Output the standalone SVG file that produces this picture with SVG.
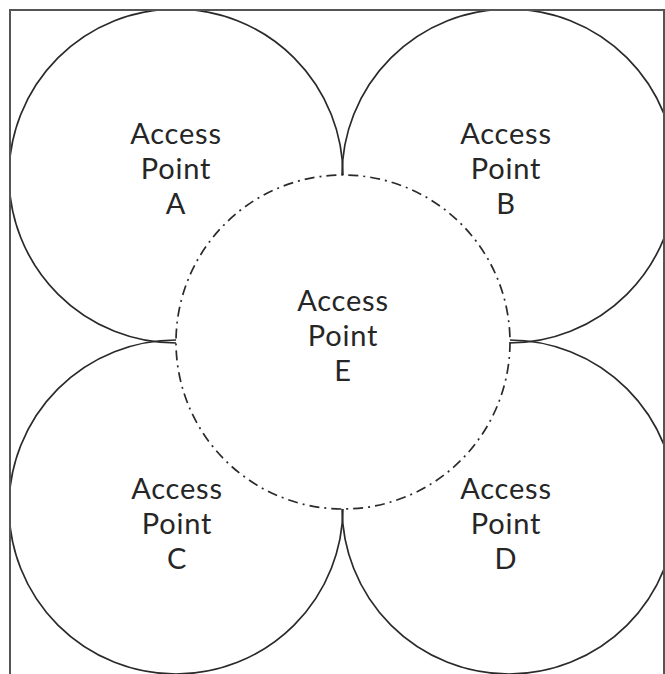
<svg xmlns="http://www.w3.org/2000/svg" width="665" height="674" viewBox="0 0 665 674">
  <style>
    .cell { fill: none; stroke: #2a2a2a; stroke-width: 1.7; }
    .center { fill: #ffffff; stroke: #2a2a2a; stroke-width: 1.7; stroke-dasharray: 10 5 2 5; }
    .lbl { font-family: Lato, "Open Sans", "Liberation Sans", sans-serif; font-size: 29px; letter-spacing: 0.8px; fill: #262626; text-anchor: middle; }
  </style>
  <rect x="0" y="0" width="665" height="674" fill="#ffffff"/>
  <defs>
    <clipPath id="frame"><rect x="10" y="10" width="654" height="664"/></clipPath>
  </defs>
  <g clip-path="url(#frame)">
    <g id="node-a"><circle class="cell" cx="176" cy="176" r="167"/></g>
    <g id="node-b"><circle class="cell" cx="509" cy="176" r="167"/></g>
    <g id="node-c"><circle class="cell" cx="176" cy="507" r="167"/></g>
    <g id="node-d"><circle class="cell" cx="509" cy="507" r="167"/></g>
    <g id="node-e"><circle class="center" cx="343" cy="342" r="167"/></g>
  </g>
  <rect x="10" y="10" width="654" height="670" fill="none" stroke="#555555" stroke-width="2"/>
  <g id="labels">
    <text class="lbl" id="label-a"><tspan x="176" y="144">Access</tspan><tspan x="176" y="179">Point</tspan><tspan x="176" y="214">A</tspan></text>
    <text class="lbl" id="label-b"><tspan x="506" y="144">Access</tspan><tspan x="506" y="179">Point</tspan><tspan x="506" y="214">B</tspan></text>
    <text class="lbl" id="label-e"><tspan x="343" y="311">Access</tspan><tspan x="343" y="346">Point</tspan><tspan x="343" y="381">E</tspan></text>
    <text class="lbl" id="label-c"><tspan x="177" y="499">Access</tspan><tspan x="177" y="534">Point</tspan><tspan x="177" y="569">C</tspan></text>
    <text class="lbl" id="label-d"><tspan x="506" y="499">Access</tspan><tspan x="506" y="534">Point</tspan><tspan x="506" y="569">D</tspan></text>
  </g>
</svg>
